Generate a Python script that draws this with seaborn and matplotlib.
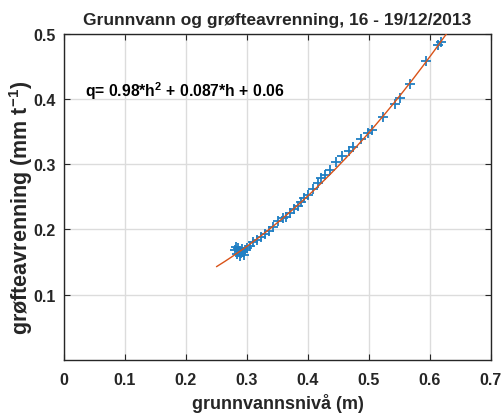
import numpy as np
import pandas as pd
import matplotlib
matplotlib.use("Agg")
import matplotlib.pyplot as plt
import seaborn as sns

# ---- data ----
h_obs = [0.2803, 0.2820, 0.2836, 0.2852, 0.2869, 0.2885, 0.2902, 0.2918, 0.2934,
         0.2951, 0.2967, 0.3000, 0.3049, 0.3098, 0.3164, 0.3230, 0.3295, 0.3361,
         0.3426, 0.3508, 0.3590, 0.3639, 0.3705, 0.3770, 0.3836, 0.3885, 0.3934,
         0.4000, 0.4082, 0.4164, 0.4213, 0.4279, 0.4361, 0.4459, 0.4557, 0.4672,
         0.4738, 0.4869, 0.4984, 0.5049, 0.5230, 0.5426, 0.5508, 0.5672, 0.5934,
         0.6131, 0.6180]
q_obs = [0.1685, 0.1730, 0.1623, 0.1715, 0.1669, 0.1593, 0.1639, 0.1700, 0.1654,
         0.1608, 0.1685, 0.1715, 0.1746, 0.1807, 0.1838, 0.1884, 0.1930, 0.1975,
         0.2037, 0.2129, 0.2175, 0.2190, 0.2251, 0.2312, 0.2358, 0.2420, 0.2481,
         0.2527, 0.2619, 0.2711, 0.2787, 0.2833, 0.2910, 0.3032, 0.3124, 0.3201,
         0.3262, 0.3384, 0.3476, 0.3522, 0.3721, 0.3920, 0.4012, 0.4227, 0.4579,
         0.4824, 0.4870]

fit_coef = [0.98, 0.087, 0.06]          # q = a*h^2 + b*h + c (from chart annotation)
fit_h_range = [0.25, 0.64]

xticks = [0, 0.1, 0.2, 0.3, 0.4, 0.5, 0.6, 0.7]
yticks = [0.1, 0.2, 0.3, 0.4, 0.5]

title = "Grunnvann og grøfteavrenning, 16 - 19/12/2013"
xlabel = "grunnvannsnivå (m)"
ylabel = r"grøfteavrenning (mm t$^{-1}$)"
annot = r"q= 0.98*h$^{2}$ + 0.087*h + 0.06"

# ---- style ----
sns.set_theme(style="whitegrid")
plt.rcParams["font.family"] = ["Liberation Sans", "DejaVu Sans"]
plt.rcParams["font.weight"] = "bold"
plt.rcParams["mathtext.fontset"] = "custom"
plt.rcParams["mathtext.rm"] = "Liberation Sans:bold"
plt.rcParams["mathtext.it"] = "Liberation Sans:bold"
plt.rcParams["mathtext.bf"] = "Liberation Sans:bold"
plt.rcParams["mathtext.default"] = "rm"

fig = plt.figure(figsize=(5.02, 4.14), dpi=100)
ax = fig.add_axes([64/502, 1 - 361/414, (491-64)/502, (361-34.7)/414])
ax.set_facecolor("white")

df = pd.DataFrame({"h": h_obs, "q": q_obs})
h_fit = np.linspace(fit_h_range[0], fit_h_range[1], 200)
df_fit = pd.DataFrame({"h": h_fit, "q": np.polyval(fit_coef, h_fit)})

sns.scatterplot(data=df, x="h", y="q", ax=ax, marker="+", s=55,
                color="#1f7fc4", linewidth=1.3, zorder=3)
sns.lineplot(data=df_fit, x="h", y="q", ax=ax, color="#D95319",
             linewidth=1.0, zorder=4)

ax.set_xlim(0, 0.7)
ax.set_ylim(0, 0.5)
ax.set_xticks(xticks)
ax.set_yticks(yticks)
ax.set_xticklabels([f"{t:g}" for t in xticks], fontsize=11.5, fontweight="bold", color="#262626")
ax.set_yticklabels([f"{t:g}" for t in yticks], fontsize=11.5, fontweight="bold", color="#262626")
ax.grid(True, color="#dcdcdc", linewidth=1.0)
for s in ax.spines.values():
    s.set_visible(True)
    s.set_color("#262626")
    s.set_linewidth(1.0)
ax.tick_params(direction="in", length=4, width=0.8, colors="#262626",
               top=True, right=True, bottom=True, left=True, pad=9)
ax.tick_params(axis="y", pad=6)

ax.set_title(title, fontsize=12.5, fontweight="bold", pad=7)
ax.set_xlabel(xlabel, fontsize=13, fontweight="bold", labelpad=4)
ax.set_ylabel(ylabel, fontsize=15.5, fontweight="bold")
ax.yaxis.set_label_coords(-0.068, 0.47)
ax.text(0.034, 0.413, annot, fontsize=11.3, fontweight="bold",
        va="center", ha="left", color="black")

fig.savefig("out.png", dpi=100)
